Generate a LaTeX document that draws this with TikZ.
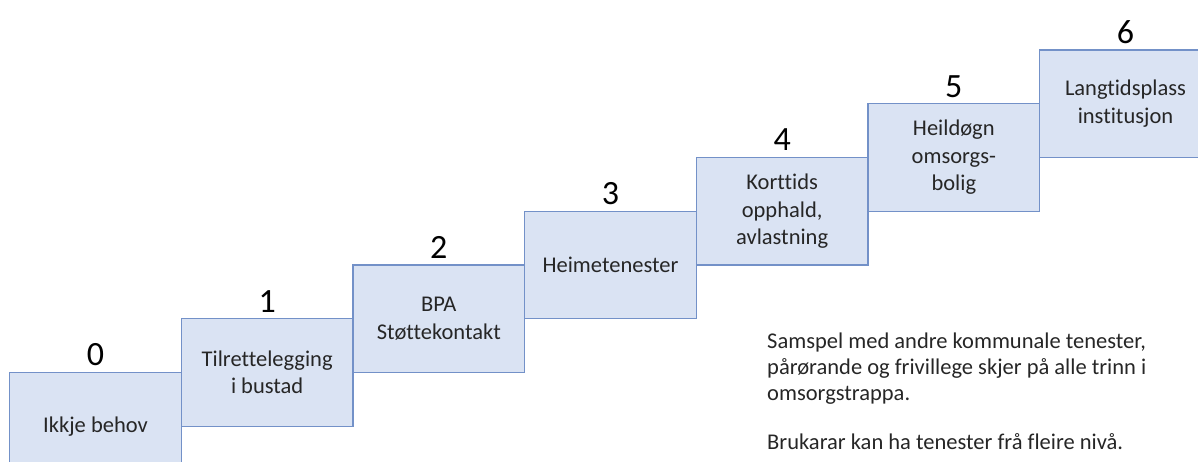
\documentclass[tikz,border=0pt]{standalone}
\usepackage{fontspec}
\setmainfont{Carlito}[Ligatures=NoCommon]
\definecolor{boxfill}{HTML}{DAE3F3}
\definecolor{boxline}{HTML}{7391C8}
\definecolor{txt}{HTML}{262626}
\begin{document}
\begin{tikzpicture}[x=1pt,y=-1pt,
  stepbox/.style={draw=boxline,fill=boxfill,line width=1.3pt,anchor=north west,
    minimum width=171.67pt,minimum height=107.5pt,inner sep=0pt,align=center,
    text=txt,font=\fontsize{22.5}{27.5}\selectfont},
  stepnum/.style={anchor=base,inner sep=0pt,font=\fontsize{34}{36}\selectfont,text=black}]
\useasboundingbox (0,0) rectangle (1198,461);
\begin{scope}
\clip (0,0) rectangle (1198,461);
\node[stepbox] (b0) at (9,371.75) {Ikkje behov};
\node[stepbox] (b1) at (180.67,318) {Tilrettelegging\\i bustad};
\node[stepbox] (b2) at (352.33,264.25) {BPA\\Støttekontakt};
\node[stepbox] (b3) at (524,210.5) {Heimetenester};
\node[stepbox] (b4) at (695.67,156.75) {Korttids\\opphald,\\avlastning};
\node[stepbox] (b5) at (867.33,103) {Heildøgn\\omsorgs-\\bolig};
\node[stepbox] (b6) at (1039,49.25) {Langtidsplass\\institusjon};
\end{scope}
\foreach \i in {0,...,6}{
  \node[stepnum] (n\i) at ([yshift=6pt]b\i.north) {\i};
}
\node[anchor=base west,inner sep=0pt,align=left,text=txt,
  font=\fontsize{22.5}{26}\selectfont] (note) at (767,449)
  {Samspel med andre kommunale tenester,\\pårørande og frivillege skjer på alle trinn i\\omsorgstrappa.\\[23pt]Brukarar kan ha tenester frå fleire nivå.};
\end{tikzpicture}
\end{document}
